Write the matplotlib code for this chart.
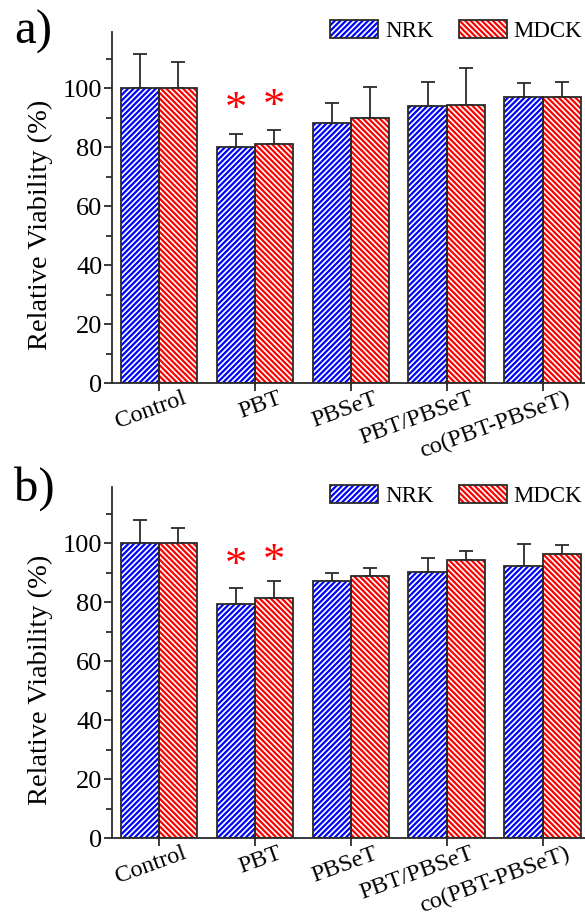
import matplotlib
matplotlib.use("Agg")
import matplotlib.pyplot as plt
import matplotlib.ticker as mticker
from matplotlib.patches import Patch
from matplotlib.legend_handler import HandlerTuple
from matplotlib.transforms import ScaledTranslation
import numpy as np

plt.rcParams["font.family"] = ["Liberation Serif", "DejaVu Serif"]
plt.rcParams["hatch.linewidth"] = 1.6

# ── data ─────────────────────────────────────────────────────────────────────
CATEGORIES = ["Control", "PBT", "PBSeT", "PBT/PBSeT", "co(PBT-PBSeT)"]

# panel a
A_NRK = [100.0, 80.0, 88.1, 93.8, 97.1]
A_NRK_ERR = [11.5, 4.4, 6.9, 8.2, 4.7]
A_MDCK = [100.0, 81.1, 89.7, 94.3, 96.8]
A_MDCK_ERR = [8.8, 4.7, 10.6, 12.5, 5.1]

# panel b
B_NRK = [100.0, 79.3, 87.1, 90.2, 92.1]
B_NRK_ERR = [7.8, 5.6, 2.6, 4.8, 7.7]
B_MDCK = [100.0, 81.4, 88.8, 94.3, 96.3]
B_MDCK_ERR = [5.1, 5.7, 2.8, 2.9, 3.0]

# significance stars: (category index, series, y centre)
A_STARS = [(1, "NRK", 95.9), (1, "MDCK", 97.0)]
B_STARS = [(1, "NRK", 95.6), (1, "MDCK", 97.0)]

BLUE = "#0000ff"
RED = "#ff0000"
EDGE = "#2b2b2b"
W = 0.4
OFFSETS = {"NRK": -W / 2, "MDCK": W / 2}

fig = plt.figure(figsize=(5.85, 9.21), dpi=100)


def draw_panel(rect, nrk, nrk_err, mdck, mdck_err, stars, label, label_y, leg_y):
    ax = fig.add_axes(rect)
    x = np.arange(len(CATEGORIES))
    handles = []
    for vals, errs, key, col, hatch in [
        (nrk, nrk_err, "NRK", BLUE, "/" * 6),
        (mdck, mdck_err, "MDCK", RED, "\\" * 6),
    ]:
        xs = x + OFFSETS[key]
        ax.errorbar(xs, vals, yerr=[np.zeros(len(errs)), errs], fmt="none",
                    ecolor=EDGE, elinewidth=1.3, capsize=5, capthick=1.3, zorder=1)
        ax.bar(xs, vals, W, facecolor="white", edgecolor=col, hatch=hatch,
               linewidth=0, zorder=2)
        ax.bar(xs, vals, W, fill=False, edgecolor=EDGE, linewidth=1.3, zorder=3)
        handles.append((Patch(facecolor="white", edgecolor=col, hatch=hatch, linewidth=0),
                        Patch(fill=False, edgecolor=EDGE, linewidth=1.3)))

    for idx, key, yc in stars:
        ax.annotate("*", (idx + OFFSETS[key], yc), xytext=(0, -15),
                    textcoords="offset points", ha="center", va="baseline",
                    color=RED, fontsize=32, zorder=4)

    ax.set_xlim(-0.49, 4.44)
    ax.set_ylim(0, 119)
    ax.spines["top"].set_visible(False)
    ax.spines["right"].set_visible(False)
    for s in ("left", "bottom"):
        ax.spines[s].set_linewidth(1.3)
        ax.spines[s].set_color(EDGE)

    ax.yaxis.set_major_locator(mticker.MultipleLocator(20))
    ax.yaxis.set_minor_locator(mticker.MultipleLocator(10))
    ax.yaxis.set_major_formatter(mticker.FuncFormatter(lambda v, p: f"{v:.0f}" if v <= 100 else ""))
    ax.tick_params(axis="y", which="major", length=6, width=1.3, color=EDGE,
                   labelsize=19, pad=1)
    ax.tick_params(axis="y", which="minor", length=4, width=1.3, color=EDGE)
    ax.tick_params(axis="x", which="major", length=6, width=1.3, color=EDGE, pad=2)

    ax.set_xticks(x)
    ax.set_xticklabels(CATEGORIES, rotation=20, ha="right", rotation_mode="anchor",
                       fontsize=17.5)
    # labels sit right of their ticks and slightly overlap the tick marks
    shift = ScaledTranslation(23 / 100, 6 / 100, fig.dpi_scale_trans)
    for t in ax.get_xticklabels():
        t.set_transform(t.get_transform() + shift)

    ax.set_ylabel("Relative Viability (%)", fontsize=20.5)
    ax.yaxis.set_label_coords(-0.125, 0.45)

    fig.legend(handles, ["NRK", "MDCK"], handler_map={tuple: HandlerTuple(ndivide=1)},
               loc="upper right", bbox_to_anchor=(0.995, leg_y), ncol=2, frameon=False,
               fontsize=16.5, handlelength=2.1, handleheight=0.8, handletextpad=0.3,
               columnspacing=1.1, borderaxespad=0, borderpad=0)

    fig.text(0.024, label_y, label, fontsize=35, va="baseline", ha="left")
    return ax


draw_panel([0.1915, 0.5841, 0.8085, 0.3812], A_NRK, A_NRK_ERR, A_MDCK, A_MDCK_ERR,
           A_STARS, "a)", 1 - 44 / 921, 1 - 20 / 921)
draw_panel([0.1915, 0.0901, 0.8085, 0.3811], B_NRK, B_NRK_ERR, B_MDCK, B_MDCK_ERR,
           B_STARS, "b)", 1 - 501 / 921, 1 - 485 / 921)

fig.savefig("out.png", dpi=100)
